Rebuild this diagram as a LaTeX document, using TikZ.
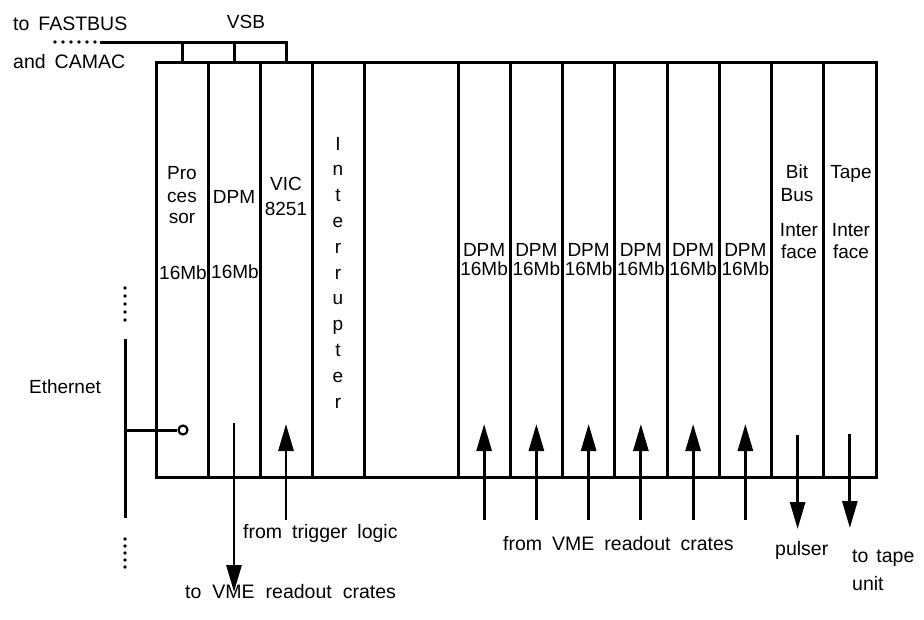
\documentclass[tikz,border=0pt]{standalone}
\usepackage{fontspec}
\setmainfont{Liberation Sans}
\usetikzlibrary{arrows.meta}
\begin{document}
\begin{tikzpicture}[x=1pt,y=-1pt,
  lbl/.style={anchor=base,inner sep=0pt,font=\fontsize{19}{22}\selectfont},
  lblw/.style={anchor=base west,inner sep=0pt,font=\fontsize{19.5}{22}\selectfont},
  wire/.style={line width=3pt},
  sig/.style={line width=2.8pt,-{Triangle[length=27pt,width=15pt]}},
  slot/.style={draw,line width=3pt,minimum height=415pt,inner sep=0pt,outer sep=0pt,anchor=north west},
  dot/.style={circle,fill,inner sep=0pt,minimum size=3.6pt}
]
\useasboundingbox (0,0) rectangle (924,619);

% rack and slots
\foreach \i/\x in {1/156,2/208,3/260,4/312}
  \node[slot,minimum width=52pt] (s\i) at (\x,62) {};
\foreach \i in {5,...,12}
  \node[slot,minimum width=52.25pt] (s\i) at ({458+52.25*(\i-5)},62) {};
\node[slot,minimum width=720pt] (rack) at (156,62) {};

% VSB bus
\coordinate (vsbL) at (100,42);
\draw[wire] (vsbL) -- (vsbL -| s3.north) -- (s3.north);
\draw[wire] (s1.north) -- (s1.north |- vsbL);
\draw[wire] (s2.north) -- (s2.north |- vsbL);
\foreach \x [count=\k] in {55,63,71,79,87,95} \node[dot] (fd\k) at (\x,42) {};

\node[lblw] (tofb) at (13,30) {to\hspace{9pt}FASTBUS};
\node[lblw] (andc) at (13,68) {and\hspace{9pt}CAMAC};
\node[lbl] (vsb) at (246,28) {VSB};

% slot texts
\node[lbl] (pro) at (182,179) {Pro};
\node[lbl] (ces) at (182,202) {ces};
\node[lbl] (sor) at (182,223) {sor};
\node[lbl] (pm) at (183,279) {16Mb};
\node[lbl] (d2) at (234,203) {DPM};
\node[lbl] (m2) at (235,278) {16Mb};
\node[lbl] (vic) at (286,190) {VIC};
\node[lbl] (n8251) at (286,215) {8251};
\foreach \c [count=\k from 0] in {I,n,t,e,r,r,u,p,t,e,r}
  \node[lbl] (int\k) at (338,{150+25.8*\k}) {\c};
\foreach \i in {5,...,10}{
  \node[lbl] (d\i) at (s\i.north |- 0,256) {DPM};
  \node[lbl] (m\i) at (s\i.north |- 0,275) {16Mb};
}
\node[lbl] (bit) at (797,178) {Bit};
\node[lbl] (bus) at (797,201) {Bus};
\node[lbl] (int11) at (799,236) {Inter};
\node[lbl] (face11) at (799,258) {face};
\node[lbl] (tape) at (851,178) {Tape};
\node[lbl] (int12) at (851,236) {Inter};
\node[lbl] (face12) at (851,258) {face};

% Ethernet
\coordinate (eth1) at (125,339);
\coordinate (eth2) at (125,518);
\draw[wire] (eth1) -- (eth2);
\node[circle,draw,line width=2.2pt,minimum size=9pt,inner sep=0pt] (port) at (183,430) {};
\draw[wire] (eth1 |- port) -- (port.west);
\foreach \y [count=\k] in {288,296,304,312,320} \node[dot] (et\k) at (125,\y) {};
\foreach \y [count=\k] in {539,546,553,560,567} \node[dot] (eb\k) at (125,\y) {};
\node[lbl] (eth) at (65,393) {Ethernet};

% signal arrows
\coordinate (o2a) at (s2.south |- 0,423);
\coordinate (o2b) at (s2.south |- 0,592);
\draw[sig] (o2a) -- (o2b);
\coordinate (i3a) at (s3.south |- 0,520);
\coordinate (i3b) at (s3.south |- 0,424);
\draw[sig] (i3a) -- (i3b);
\foreach \i in {5,...,10}{
  \coordinate (i\i a) at (s\i.south |- 0,520);
  \coordinate (i\i b) at (s\i.south |- 0,424);
  \draw[sig] (i\i a) -- (i\i b);
}
\coordinate (o11a) at (s11.south |- 0,435);
\coordinate (o11b) at (s11.south |- 0,529);
\draw[sig] (o11a) -- (o11b);
\coordinate (o12a) at (s12.south |- 0,434);
\coordinate (o12b) at (s12.south |- 0,528);
\draw[sig] (o12a) -- (o12b);

% bottom labels
\node[lblw] (trig) at (243,538) {from\hspace{10pt}trigger\hspace{10pt}logic};
\node[lblw] (tovme) at (185,598) {to\hspace{11pt}VME\hspace{11pt}readout\hspace{11pt}crates};
\node[lblw] (fromvme) at (503,550) {from\hspace{10pt}VME\hspace{10pt}readout\hspace{10pt}crates};
\node[lblw] (puls) at (775,555) {pulser};
\node[lblw] (totape) at (852,562) {to\hspace{8pt}tape};
\node[lblw] (unit) at (852,590) {unit};
\end{tikzpicture}
\end{document}
